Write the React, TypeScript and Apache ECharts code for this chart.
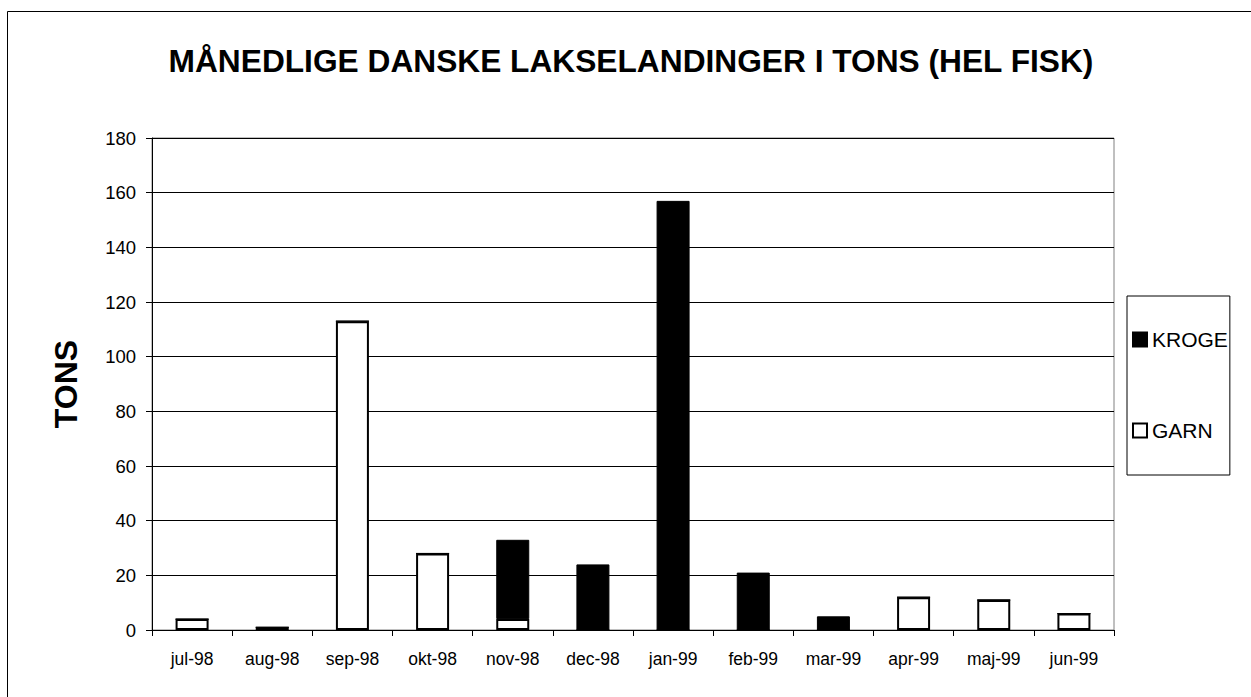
import React, { useEffect, useRef } from "react";
import * as echarts from "echarts";

const categories = ["jul-98", "aug-98", "sep-98", "okt-98", "nov-98", "dec-98", "jan-99", "feb-99", "mar-99", "apr-99", "maj-99", "jun-99"];
const garn = [4, 1, 113, 28, 4, 0, 0, 0, 0, 12, 11, 6];
const kroge = [0, 0, 0, 0, 29, 24, 157, 21, 5, 0, 0, 0];
const seriesNames = ["KROGE", "GARN"];
const titleText = "MÅNEDLIGE DANSKE LAKSELANDINGER I TONS (HEL FISK)";
const yAxisName = "TONS";

const FONT = "'Liberation Sans', Arial, sans-serif";

export default function App() {
  const ref = useRef<HTMLDivElement>(null);
  useEffect(() => {
    if (!ref.current) return;
    const chart = echarts.init(ref.current, null, { renderer: "svg" });
    chart.setOption({
      animation: false,
      backgroundColor: "#fff",
      title: {
        text: titleText,
        left: 626,
        top: 40,
        textAlign: "center",
        textStyle: { fontFamily: FONT, fontSize: 31.7, fontWeight: "bold", color: "#000" },
      },
      graphic: [
        {
          type: "rect",
          shape: { x: 7.5, y: 11.5, width: 1400, height: 900 },
          style: { fill: "none", stroke: "#000", lineWidth: 1 },
          silent: true,
        },
      ],
      legend: {
        orient: "vertical",
        left: 1127,
        top: 296,
        data: seriesNames,
        itemWidth: 14,
        itemHeight: 14,
        itemGap: 70,
        padding: [33, 2, 34, 5],
        borderColor: "#000",
        borderWidth: 1,
        icon: "rect",
        textStyle: { fontFamily: FONT, fontSize: 21, color: "#000" },
      },
      grid: {
        left: 152,
        top: 138,
        right: 137,
        bottom: 67,
        show: true,
        borderColor: "#808080",
        borderWidth: 1,
      },
      xAxis: {
        type: "category",
        data: categories,
        boundaryGap: true,
        axisLine: { lineStyle: { color: "#000", width: 1 } },
        axisTick: { show: true, length: 6, interval: 0, lineStyle: { color: "#000" } },
        axisLabel: { interval: 0, margin: 20, fontFamily: FONT, fontSize: 17.5, color: "#000" },
      },
      yAxis: {
        type: "value",
        min: 0,
        max: 180,
        interval: 20,
        name: yAxisName,
        nameLocation: "middle",
        nameGap: 70,
        nameTextStyle: { fontFamily: FONT, fontSize: 32, fontWeight: "bold", color: "#000" },
        axisLine: { show: true, lineStyle: { color: "#000", width: 1 } },
        axisTick: { show: true, length: 6, lineStyle: { color: "#000" } },
        axisLabel: { margin: 16, fontFamily: FONT, fontSize: 18.5, color: "#000" },
        splitLine: { show: true, lineStyle: { color: "#000", width: 1 } },
      },
      series: [
        {
          name: "GARN",
          type: "bar",
          stack: "total",
          barWidth: 33,
          data: garn,
          itemStyle: { color: "#fff", borderColor: "#000", borderWidth: 2 },
        },
        {
          name: "KROGE",
          type: "bar",
          stack: "total",
          barWidth: 33,
          data: kroge,
          itemStyle: { color: "#000", borderColor: "#000", borderWidth: 1 },
        },
      ],
    });
    return () => chart.dispose();
  }, []);
  return <div ref={ref} style={{ position: "absolute", left: 0, top: 0, width: 1251, height: 697 }} />;
}
